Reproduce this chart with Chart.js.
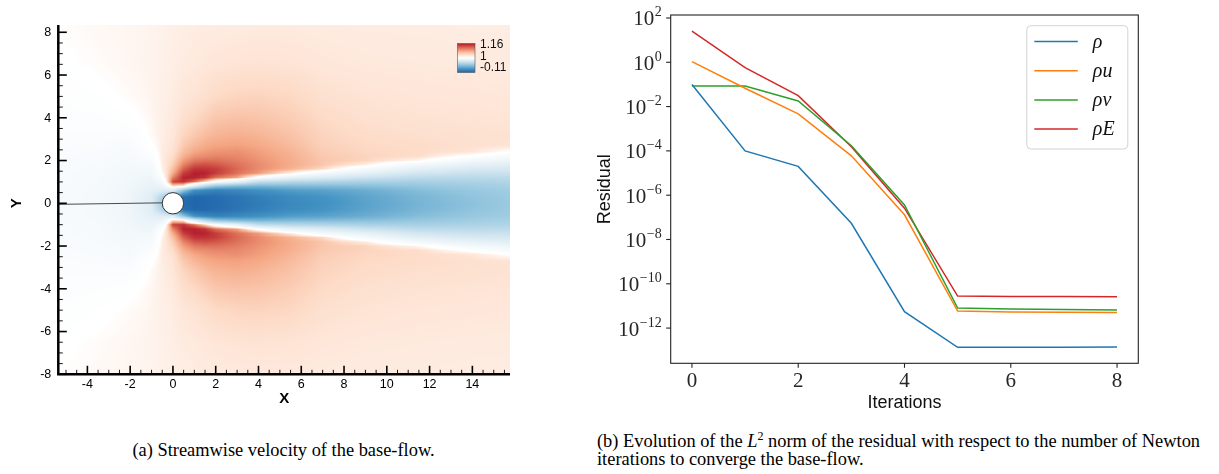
<!DOCTYPE html>
<html>
<head>
<meta charset="utf-8">
<script src="https://cdn.jsdelivr.net/npm/chart.js@4.4.0/dist/chart.umd.min.js"></script>
<style>
  html, body { margin: 0; padding: 0; background: #fff; }
  body { width: 1219px; height: 474px; position: relative; overflow: hidden; }
  #wrapA { position: absolute; left: 0; top: 0; width: 540px; height: 420px; }
  #wrapB { position: absolute; left: 580px; top: 0; width: 639px; height: 420px; }
  .cap { position: absolute; font-family: "Liberation Serif", "Times New Roman", serif; font-size: 18.4px; line-height: 18px; color: #000; white-space: nowrap; }
  .cap sup { font-size: 12px; line-height: 0; vertical-align: 7px; }
  #capA { left: 0; width: 567px; top: 441px; text-align: center; }
  #capB { left: 597px; top: 432px; }
</style>
</head>
<body>
<div id="wrapA"><canvas id="fieldChart" width="540" height="420"></canvas></div>
<div id="wrapB"><canvas id="residualChart" width="639" height="420"></canvas></div>
<div class="cap" id="capA">(a) Streamwise velocity of the base-flow.</div>
<div class="cap" id="capB">(b) Evolution of the <i>L</i><sup>2</sup> norm of the residual with respect to the number of Newton<br>iterations to converge the base-flow.</div>
<script>
// ---------- (a) streamwise velocity field ----------
// grid columns at fieldX, rows at fieldY (upper half, y >= 0; lower half is its mirror)
const fieldX = [-5.36, -3.5, -2, -1, -0.5, 0, 0.5, 1, 1.5, 2, 3, 4, 5.5, 7, 9, 11.5, 14, 15.76];
const fieldY = [0, 0.3, 0.6, 0.8, 1.0, 1.2, 1.4, 1.6, 1.8, 2.0, 2.2, 2.4, 2.7, 3.2, 4, 5, 6.5, 8.34];
// one column per fieldX entry, values from y = 0 upwards
const uColumns = [
  [0.95, 0.95, 0.951, 0.952, 0.953, 0.954, 0.955, 0.957, 0.959, 0.961, 0.963, 0.965, 0.968, 0.972, 0.979, 0.987, 0.996, 1.002],
  [0.935, 0.935, 0.937, 0.939, 0.941, 0.943, 0.945, 0.948, 0.951, 0.954, 0.957, 0.96, 0.965, 0.972, 0.983, 0.995, 1.004, 1.008],
  [0.9, 0.9, 0.904, 0.908, 0.912, 0.916, 0.921, 0.926, 0.931, 0.936, 0.941, 0.946, 0.955, 0.97, 0.993, 1.005, 1.01, 1.01],
  [0.8, 0.81, 0.84, 0.86, 0.88, 0.9, 0.915, 0.93, 0.945, 0.96, 0.972, 0.984, 0.997, 1.006, 1.01, 1.012, 1.013, 1.012],
  [0.5, 0.58, 0.8, 0.88, 0.94, 0.985, 1.005, 1.014, 1.018, 1.02, 1.021, 1.021, 1.02, 1.019, 1.018, 1.017, 1.016, 1.015],
  [0.2, 0.3, 0.8, 1.04, 1.135, 1.1, 1.075, 1.06, 1.05, 1.043, 1.038, 1.034, 1.03, 1.027, 1.024, 1.021, 1.019, 1.017],
  [-0.08, -0.04, 0.45, 1.02, 1.145, 1.155, 1.14, 1.12, 1.1, 1.085, 1.072, 1.062, 1.053, 1.044, 1.035, 1.028, 1.022, 1.019],
  [-0.11, -0.1, 0.15, 0.82, 1.11, 1.155, 1.155, 1.145, 1.125, 1.105, 1.09, 1.078, 1.066, 1.053, 1.041, 1.031, 1.024, 1.02],
  [-0.1, -0.09, 0.1, 0.6, 1.05, 1.145, 1.155, 1.145, 1.13, 1.11, 1.095, 1.086, 1.075, 1.062, 1.048, 1.035, 1.026, 1.021],
  [-0.08, -0.07, 0.06, 0.45, 0.97, 1.11, 1.14, 1.14, 1.125, 1.11, 1.099, 1.09, 1.08, 1.068, 1.055, 1.04, 1.028, 1.021],
  [-0.03, -0.02, 0.1, 0.38, 0.85, 1.08, 1.11, 1.115, 1.11, 1.103, 1.097, 1.092, 1.082, 1.072, 1.058, 1.044, 1.03, 1.022],
  [0.02, 0.04, 0.15, 0.35, 0.65, 0.98, 1.085, 1.095, 1.095, 1.091, 1.087, 1.084, 1.077, 1.068, 1.057, 1.045, 1.031, 1.023],
  [0.1, 0.12, 0.22, 0.38, 0.6, 0.85, 1.02, 1.07, 1.075, 1.074, 1.072, 1.069, 1.064, 1.058, 1.05, 1.042, 1.03, 1.023],
  [0.15, 0.17, 0.25, 0.39, 0.58, 0.79, 0.93, 1.04, 1.056, 1.056, 1.054, 1.051, 1.048, 1.045, 1.04, 1.034, 1.027, 1.022],
  [0.25, 0.26, 0.31, 0.41, 0.55, 0.7, 0.84, 0.94, 1.02, 1.045, 1.045, 1.043, 1.041, 1.038, 1.034, 1.03, 1.025, 1.021],
  [0.35, 0.36, 0.4, 0.46, 0.54, 0.63, 0.73, 0.83, 0.92, 1.01, 1.037, 1.039, 1.038, 1.035, 1.031, 1.028, 1.024, 1.021],
  [0.43, 0.44, 0.47, 0.51, 0.56, 0.62, 0.69, 0.77, 0.85, 0.93, 0.99, 1.028, 1.034, 1.033, 1.03, 1.027, 1.023, 1.02],
  [0.48, 0.49, 0.51, 0.54, 0.58, 0.63, 0.69, 0.75, 0.82, 0.89, 0.945, 1.0, 1.031, 1.032, 1.029, 1.026, 1.023, 1.02]
];
const uRange = [-0.11, 1, 1.16];              // min, white level, max
const colorbarLabels = ['1.16', '1', '-0.11'];
const cylinder = [{ x: 0, y: 0 }];
const cylinderRadius = 0.5;
const cutLineX = [-5.36, -0.5];
const cutLineY = [-0.05, 0.02];

// ---------- (b) Newton residuals ----------
const iterations = [0, 1, 2, 3, 4, 5, 6, 7, 8];
const resRho  = [1.0e-1, 1.0e-4, 2.0e-5, 5.4e-8, 5.5e-12, 1.35e-13, 1.35e-13, 1.37e-13, 1.4e-13];
const resRhoU = [1.07, 6.7e-2, 4.7e-3, 6.0e-5, 1.3e-7, 5.9e-12, 5.3e-12, 5.2e-12, 5.1e-12];
const resRhoV = [8.5e-2, 8.4e-2, 1.8e-2, 1.7e-4, 3.6e-7, 8.0e-12, 7.2e-12, 6.9e-12, 6.6e-12];
const resRhoE = [25.8, 0.57, 3.1e-2, 1.55e-4, 2.6e-7, 2.8e-11, 2.7e-11, 2.65e-11, 2.6e-11];
const residualLabels = ['\u03c1', '\u03c1u', '\u03c1v', '\u03c1E'];
const residualColors = ['#1f77b4', '#ff7f0e', '#2ca02c', '#d62728'];
const xTicks = [0, 2, 4, 6, 8];
const yDecades = [-12, -10, -8, -6, -4, -2, 0, 2];

// ---------- colour map (diverging, white at u = 1) ----------
const blueStops = [[255, 255, 255], [209, 229, 240], [146, 197, 222], [67, 147, 195], [33, 102, 172]];
const redStops  = [[255, 255, 255], [253, 219, 199], [244, 165, 130], [214, 96, 77], [178, 24, 43]];

function uColor(u) {
  let t, stops;
  if (u >= uRange[1]) { t = (u - uRange[1]) / (uRange[2] - uRange[1]); stops = redStops; }
  else { t = (uRange[1] - u) / (uRange[1] - uRange[0]); stops = blueStops; }
  t = Math.max(0, Math.min(1, t)) * (stops.length - 1);
  const k = Math.min(Math.floor(t), stops.length - 2), f = t - k;
  const a = stops[k], b = stops[k + 1];
  return [a[0] + (b[0] - a[0]) * f, a[1] + (b[1] - a[1]) * f, a[2] + (b[2] - a[2]) * f];
}

function bracket(arr, v) {
  if (v <= arr[0]) return [0, 0];
  for (let i = 0; i < arr.length - 1; i++) {
    if (v <= arr[i + 1]) return [i, (v - arr[i]) / (arr[i + 1] - arr[i])];
  }
  return [arr.length - 2, 1];
}

function fieldAt(x, y) {
  const [i, tx] = bracket(fieldX, x);
  const [j, ty] = bracket(fieldY, Math.abs(y));
  const c0 = uColumns[i], c1 = uColumns[i + 1];
  const a = c0[j] + (c0[j + 1] - c0[j]) * ty;
  const b = c1[j] + (c1[j + 1] - c1[j]) * ty;
  return a + (b - a) * tx;
}

const SANS = '"Liberation Sans", Arial, sans-serif';
const SERIF = '"Liberation Serif", "Times New Roman", serif';

// paint the field under everything else
const fieldPlugin = {
  id: 'field',
  beforeDraw(chart) {
    const { ctx, chartArea: a, scales } = chart;
    const x0 = Math.round(a.left), y0 = Math.round(a.top);
    const w = Math.round(a.right) - x0, h = Math.round(a.bottom) - y0;
    const img = ctx.createImageData(w, h);
    const xv = [], yv = [];
    for (let px = 0; px < w; px++) xv.push(scales.x.getValueForPixel(x0 + px + 0.5));
    for (let py = 0; py < h; py++) yv.push(scales.y.getValueForPixel(y0 + py + 0.5));
    let k = 0;
    for (let py = 0; py < h; py++) {
      for (let px = 0; px < w; px++) {
        const c = uColor(fieldAt(xv[px], yv[py]));
        img.data[k++] = c[0]; img.data[k++] = c[1]; img.data[k++] = c[2]; img.data[k++] = 255;
      }
    }
    ctx.putImageData(img, x0, y0);
  }
};

// Tecplot-like axes: inward ticks, bold titles, colour legend
const fieldAxes = {
  id: 'fieldAxes',
  afterDraw(chart) {
    const { ctx, chartArea: a, scales } = chart;
    const sx = scales.x, sy = scales.y;
    ctx.save();
    ctx.strokeStyle = '#000';
    ctx.fillStyle = '#000';
    // minor / major ticks every 0.5, labels every 2
    for (let v = Math.ceil(sx.min * 2) / 2; v <= sx.max; v += 0.5) {
      const major = Math.abs(v % 2) < 1e-9;
      const px = sx.getPixelForValue(v);
      ctx.lineWidth = major ? 1.6 : 0.9;
      ctx.beginPath(); ctx.moveTo(px, a.bottom); ctx.lineTo(px, a.bottom - (major ? 8.5 : 4.5)); ctx.stroke();
      if (major) {
        ctx.font = '12.5px ' + SANS; ctx.textAlign = 'center'; ctx.textBaseline = 'alphabetic';
        ctx.fillText(String(v), px, a.bottom + 14);
      }
    }
    for (let v = Math.ceil(sy.min * 2) / 2; v <= sy.max; v += 0.5) {
      const major = Math.abs(v % 2) < 1e-9;
      const py = sy.getPixelForValue(v);
      ctx.lineWidth = major ? 1.6 : 0.9;
      ctx.beginPath(); ctx.moveTo(a.left, py); ctx.lineTo(a.left + (major ? 8.5 : 4.5), py); ctx.stroke();
      if (major) {
        ctx.font = '12.5px ' + SANS; ctx.textAlign = 'right'; ctx.textBaseline = 'middle';
        ctx.fillText(String(v), a.left - 7, py + 0.5);
      }
    }
    // axis lines
    ctx.lineWidth = 2.5;
    ctx.beginPath();
    ctx.moveTo(a.left, a.top); ctx.lineTo(a.left, a.bottom); ctx.lineTo(a.right, a.bottom);
    ctx.stroke();
    // titles
    ctx.font = 'bold 15px ' + SANS;
    ctx.textAlign = 'center'; ctx.textBaseline = 'alphabetic';
    ctx.fillText('X', (a.left + a.right) / 2, a.bottom + 29);
    ctx.save();
    ctx.translate(21, sy.getPixelForValue(0));
    ctx.rotate(-Math.PI / 2);
    ctx.fillText('Y', 0, 0);
    ctx.restore();
    // colour legend
    const bx = 457.5, by = 43.5, bw = 17.5, bh = 29;
    const g = ctx.createLinearGradient(0, by, 0, by + bh);
    for (let s = 0; s <= 10; s++) {
      const u = s <= 5 ? uRange[2] - (uRange[2] - uRange[1]) * s / 5 : uRange[1] - (uRange[1] - uRange[0]) * (s - 5) / 5;
      const c = uColor(u);
      g.addColorStop(s / 10, 'rgb(' + c.map(Math.round).join(',') + ')');
    }
    ctx.fillStyle = g;
    ctx.fillRect(bx, by, bw, bh);
    ctx.lineWidth = 0.6; ctx.strokeStyle = '#555';
    ctx.strokeRect(bx, by, bw, bh);
    ctx.fillStyle = '#111';
    ctx.font = '12px ' + SANS; ctx.textAlign = 'left'; ctx.textBaseline = 'middle';
    const ly = [45, 56.5, 67.5];
    colorbarLabels.forEach((t, i) => ctx.fillText(t, bx + bw + 5, ly[i]));
    ctx.restore();
  }
};

new Chart(document.getElementById('fieldChart').getContext('2d'), {
  type: 'scatter',
  data: {
    datasets: [
      {
        data: cylinder,
        pointRadius: (c) => Math.abs(c.chart.scales.x.getPixelForValue(cylinderRadius) - c.chart.scales.x.getPixelForValue(0)),
        pointBackgroundColor: '#ffffff',
        pointBorderColor: '#333333',
        pointBorderWidth: 1
      },
      {
        data: cutLineX.map((x, i) => ({ x: x, y: cutLineY[i] })),
        showLine: true,
        borderColor: '#4a4a4a',
        borderWidth: 1,
        pointRadius: 0
      }
    ]
  },
  options: {
    responsive: false,
    animation: false,
    events: [],
    layout: { padding: { left: 58.3, top: 25, right: 30, bottom: 45.7 } },
    scales: {
      x: { type: 'linear', min: -5.36, max: 15.76, display: false },
      y: { type: 'linear', min: -8, max: 8.34, display: false }
    },
    plugins: { legend: { display: false }, tooltip: { enabled: false } }
  },
  plugins: [fieldPlugin, fieldAxes]
});

// ---------- (b) chart ----------
function drawPow(ctx, exp, xRight, yc) {
  const expTxt = exp < 0 ? '\u2212' + (-exp) : String(exp);
  ctx.font = '14px ' + SERIF;
  const we = ctx.measureText(expTxt).width;
  ctx.textAlign = 'left'; ctx.textBaseline = 'alphabetic';
  ctx.fillText(expTxt, xRight - we, yc - 1.5);
  ctx.font = '21px ' + SERIF;
  ctx.textAlign = 'right';
  ctx.fillText('10', xRight - we - 0.5, yc + 7.5);
}

const residualAxes = {
  id: 'residualAxes',
  afterDraw(chart) {
    const { ctx, chartArea: a, scales } = chart;
    ctx.save();
    ctx.strokeStyle = '#222'; ctx.fillStyle = '#262626';
    ctx.lineWidth = 1.1;
    ctx.strokeRect(a.left, a.top, a.right - a.left, a.bottom - a.top);
    // x ticks
    xTicks.forEach((v) => {
      const px = scales.x.getPixelForValue(v);
      ctx.beginPath(); ctx.moveTo(px, a.bottom); ctx.lineTo(px, a.bottom + 4.5); ctx.stroke();
      ctx.font = '21px ' + SERIF; ctx.textAlign = 'center'; ctx.textBaseline = 'alphabetic';
      ctx.fillText(String(v), px, a.bottom + 24);
    });
    // y ticks
    yDecades.forEach((e) => {
      const py = scales.y.getPixelForValue(Math.pow(10, e));
      ctx.beginPath(); ctx.moveTo(a.left, py); ctx.lineTo(a.left - 4.5, py); ctx.stroke();
      drawPow(ctx, e, a.left - 9, py);
    });
    // axis titles
    ctx.fillStyle = '#111';
    ctx.font = '18px ' + SANS; ctx.textAlign = 'center'; ctx.textBaseline = 'alphabetic';
    ctx.fillText('Iterations', (a.left + a.right) / 2, a.bottom + 45);
    ctx.save();
    ctx.translate(a.left - 60.5, (a.top + a.bottom) / 2);
    ctx.rotate(-Math.PI / 2);
    ctx.fillText('Residual', 0, 0);
    ctx.restore();
    // legend box, upper right
    const lx = a.right - 111.5, ly = a.top + 10.7, lw = 101, lh = 123.3;
    ctx.beginPath();
    ctx.roundRect(lx, ly, lw, lh, 4);
    ctx.fillStyle = 'rgba(255,255,255,0.8)'; ctx.fill();
    ctx.strokeStyle = '#d3d3d3'; ctx.lineWidth = 1; ctx.stroke();
    chart.data.datasets.forEach((ds, i) => {
      const yy = ly + 15.8 + i * 29.2;
      ctx.strokeStyle = ds.borderColor; ctx.lineWidth = 1.5;
      ctx.beginPath(); ctx.moveTo(lx + 7.5, yy); ctx.lineTo(lx + 51, yy); ctx.stroke();
      ctx.fillStyle = '#111';
      ctx.font = 'italic 20px ' + SERIF; ctx.textAlign = 'left'; ctx.textBaseline = 'middle';
      ctx.fillText(ds.label, lx + 66, yy + 1);
    });
    ctx.restore();
  }
};

const series = [resRho, resRhoU, resRhoV, resRhoE];
new Chart(document.getElementById('residualChart').getContext('2d'), {
  type: 'line',
  data: {
    datasets: series.map((vals, k) => ({
      label: residualLabels[k],
      data: vals.map((v, i) => ({ x: iterations[i], y: v })),
      borderColor: residualColors[k],
      borderWidth: 1.5,
      pointRadius: 0,
      tension: 0,
      fill: false
    }))
  },
  options: {
    responsive: false,
    animation: false,
    events: [],
    layout: { padding: { left: 90.7, top: 15, right: 80.7, bottom: 56.7 } },
    scales: {
      x: { type: 'linear', min: -0.4, max: 8.4, display: false },
      y: { type: 'logarithmic', min: Math.pow(10, -13.59), max: Math.pow(10, 2.135), display: false }
    },
    plugins: { legend: { display: false }, tooltip: { enabled: false } }
  },
  plugins: [residualAxes]
});
</script>
</body>
</html>
